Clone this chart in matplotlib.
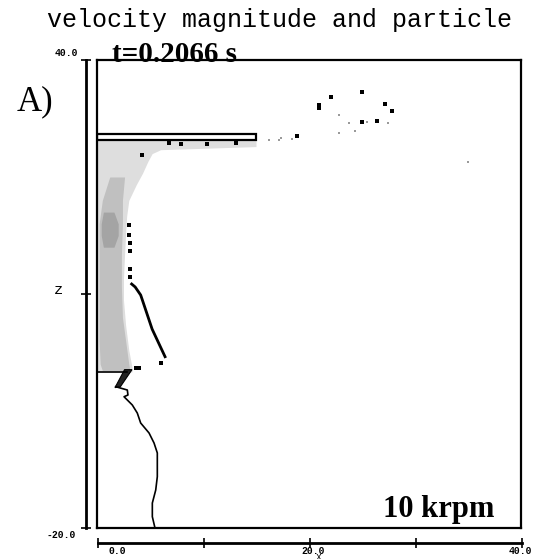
"""
plot.py — 速度幅值与颗粒分布图（t=0.2066 s，10 krpm）
======================================================
用 matplotlib 复现扫描图：左侧液柱的速度场灰度 + 颗粒散点 + 自由液面曲线。
"""

import matplotlib
matplotlib.use("Agg")
import matplotlib.pyplot as plt
from matplotlib.patches import Rectangle, Polygon


# ======================== 数据 ========================

# 坐标范围
X_MIN, X_MAX = 0.0, 40.0
Z_MIN, Z_MAX = -20.0, 40.0

# 转盘（水平薄板）
DISK_X = [0.0, 15.0]
DISK_Z = [29.8, 30.5]

# 浅灰速度场区域：右边界随高度变化
shade_z = [29.8, 28.9, 28.5, 28.0, 27.0, 25.5, 24.0, 22.0, 20.0, 17.8,
           15.0, 12.0, 9.2, 6.0, 2.8, 0.6, 0.0]
shade_x = [15.0, 15.0, 6.0, 5.2, 4.8, 4.3, 3.7, 3.0, 2.8, 2.7,
           2.6, 2.5, 2.5, 2.7, 3.0, 3.3, 3.3]

# 中灰核心区
core_z = [25.0, 22.0, 19.0, 15.0, 11.0, 7.0, 4.0, 1.0, 0.2]
core_l = [1.2, 0.5, 0.2, 0.2, 0.2, 0.2, 0.2, 0.3, 0.5]
core_r = [2.6, 2.4, 2.4, 2.3, 2.3, 2.4, 2.7, 3.0, 3.1]

# 深灰斑块
dark_z = [20.5, 19.0, 17.5, 16.0]
dark_l = [0.6, 0.4, 0.4, 0.6]
dark_r = [1.6, 2.0, 2.0, 1.6]

# 液面底部水平线
base_x = [0.0, 2.8]
base_z = [0.0, 0.0]

# 楔形暗区
wedge_x = [2.6, 3.3, 2.2, 1.7]
wedge_z = [0.3, 0.3, -1.9, -2.0]

# 下方自由液面曲线
curve_x = [1.76, 2.86, 2.92, 2.55, 3.33, 3.80, 4.12, 4.91, 5.38, 5.69,
           5.69, 5.54, 5.22, 5.22, 5.47]
curve_z = [-1.88, -2.31, -2.95, -3.17, -4.23, -5.26, -6.54, -7.82, -9.10, -10.38,
           -13.42, -15.13, -16.8, -18.55, -20.0]

# 颗粒轨迹（斜线）
trail_x = [3.27, 3.6, 4.12, 4.28, 5.2, 6.42]
trail_z = [11.28, 10.9, 9.87, 9.23, 5.5, 1.96]

# 黑色颗粒
dots_x = [3.02, 3.02, 3.1, 3.1, 3.1, 3.15, 3.7, 4.0, 6.0,
          4.2, 6.8, 7.9, 10.4, 13.1,
          24.97, 22.04, 20.9, 20.9, 27.2, 27.86, 26.4, 25.0, 18.9]
dots_z = [18.85, 17.56, 16.5, 15.55, 13.17, 12.2, 0.45, 0.45, 1.2,
          27.8, 29.3, 29.2, 29.2, 29.3,
          35.9, 35.3, 34.2, 33.8, 34.4, 33.5, 32.2, 32.0, 30.26]

# 浅色颗粒
faint_x = [22.8, 23.8, 25.5, 24.3, 22.8, 17.4, 27.45, 35.0, 16.2, 17.2, 18.4]
faint_z = [33.0, 31.9, 32.05, 30.9, 30.6, 30.0, 31.9, 26.9, 29.8, 29.8, 29.9]

# 刻度
x_ticks = [0, 10, 20, 30, 40]
x_tick_labels = ["0.0", "20.0", "40.0"]
y_ticks = [-20, 10, 40]


# ======================== 绘图 ========================

W, H = 551, 559

def fx(px):
    return px / W

def fy(py):
    return 1 - py / H


def plot_field():
    fig = plt.figure(figsize=(W / 100, H / 100), dpi=100)

    mono = "Liberation Mono"
    serif = "Liberation Serif"

    # --- 主绘图框 ---
    ax = fig.add_axes([fx(97), fy(528), (521 - 97) / W, (528 - 60) / H])
    ax.set_xlim(X_MIN, X_MAX)
    ax.set_ylim(Z_MIN, Z_MAX)
    ax.set_xticks([])
    ax.set_yticks([])
    for s in ax.spines.values():
        s.set_linewidth(1.6)

    # 速度场灰度
    ax.fill_betweenx(shade_z, 0, shade_x, color="#dedede", lw=0)
    ax.fill_betweenx(core_z, core_l, core_r, color="#c0c0c0", lw=0)
    ax.fill_betweenx(dark_z, dark_l, dark_r, color="#a4a4a4", lw=0)

    # 转盘
    ax.add_patch(Rectangle((DISK_X[0], DISK_Z[0]), DISK_X[1] - DISK_X[0],
                           DISK_Z[1] - DISK_Z[0], fc="white", ec="black", lw=1.6))

    # 液面
    ax.plot(base_x, base_z, color="black", lw=1.2)
    ax.add_patch(Polygon(list(zip(wedge_x, wedge_z)), closed=True,
                         fc="#222222", ec="black", lw=0.8))
    ax.plot(curve_x, curve_z, color="black", lw=1.2)

    # 颗粒
    ax.plot(trail_x, trail_z, color="black", lw=2.0)
    ax.plot(dots_x, dots_z, "s", color="black", ms=2.2, mew=0)
    ax.plot(faint_x, faint_z, "s", color="#9a9a9a", ms=1.6, mew=0)

    # --- 独立 Y 轴 ---
    ax_y = fig.add_axes([fx(86), fy(528), 0.0001, (528 - 60) / H])
    ax_y.set_ylim(Z_MIN, Z_MAX)
    ax_y.set_xticks([])
    ax_y.set_yticks(y_ticks)
    ax_y.tick_params(axis="y", direction="inout", length=7, width=1.2, labelleft=False)
    for k in ["top", "right", "bottom"]:
        ax_y.spines[k].set_visible(False)
    ax_y.spines["left"].set_linewidth(2.0)

    # --- 独立 X 轴 ---
    ax_x = fig.add_axes([fx(98), fy(543), (522 - 98) / W, 0.0001])
    ax_x.set_xlim(X_MIN, X_MAX)
    ax_x.set_yticks([])
    ax_x.set_xticks(x_ticks)
    ax_x.tick_params(axis="x", direction="inout", length=7, width=1.2, labelbottom=False)
    for k in ["top", "right", "left"]:
        ax_x.spines[k].set_visible(False)
    ax_x.spines["bottom"].set_linewidth(2.0)

    # --- 文字 ---
    fig.text(fx(47), fy(27), "velocity magnitude and particle", family=mono,
             fontsize=18, va="baseline", ha="left")
    fig.text(fx(112), fy(62), "t=0.2066 s", family=serif, fontweight="bold",
             fontsize=21, va="baseline", ha="left")
    fig.text(fx(17), fy(110), "A)", family=serif, fontsize=25,
             va="baseline", ha="left")
    fig.text(fx(383), fy(517), "10 krpm", family=serif, fontweight="bold",
             fontsize=22, va="baseline", ha="left")

    tk = dict(family=mono, fontsize=7, fontweight="bold", va="center", ha="center")
    fig.text(fx(66), fy(53), "40.0", **tk)
    fig.text(fx(61), fy(535), "-20.0", **tk)
    fig.text(fx(58), fy(290), "z", family=mono, fontsize=11, va="center", ha="center")
    fig.text(fx(117), fy(551), x_tick_labels[0], **tk)
    fig.text(fx(313), fy(551), x_tick_labels[1], **tk)
    fig.text(fx(520), fy(551), x_tick_labels[2], **tk)
    fig.text(fx(318), fy(557), "x", family=mono, fontsize=7, va="center", ha="center")

    fig.savefig("out.png", dpi=100)


def main():
    plot_field()


if __name__ == "__main__":
    main()
